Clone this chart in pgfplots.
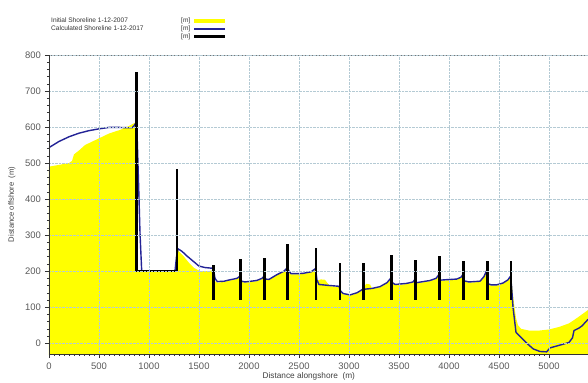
\documentclass[border=0pt]{standalone}
\usepackage{fontspec}
\setmainfont{Liberation Sans}
\usepackage{pgfplots}
\pgfplotsset{compat=1.18}
\definecolor{shoreblue}{RGB}{35,35,150}
\definecolor{gridc}{RGB}{180,202,212}
\definecolor{shoreyellow}{RGB}{255,255,0}
\begin{document}
\begin{tikzpicture}
\begin{axis}[
  scale only axis, width=539bp, height=299bp,
  xmin=0, xmax=5390, ymin=-30, ymax=800,
  axis x line*=bottom, axis y line*=left,
  axis line style={-, black!80, line width=0.8bp},
  xtick={0,500,...,5000}, ytick={0,100,...,800},
  minor x tick num=9, minor y tick num=4,
  tick align=outside, major tick length=4bp, minor tick length=2bp,
  tick style={black!80, line width=0.5bp},
  grid=major, major grid style={gridc, densely dotted, line width=0.7bp},
  axis on top,
  tick label style={font=\fontsize{9.5}{10}\selectfont, text=black!65},
  xticklabel style={yshift=-1bp},
  yticklabel style={xshift=-0.5bp},
  /pgf/number format/assume math mode=true,
  /pgf/number format/1000 sep={},
  xlabel={Distance alongshore\ \ (m)}, ylabel={Distance offshore\ \ (m)},
  label style={text=black!75},
  xlabel style={at={(axis description cs:0.482,-0.076)}, anchor=center, font=\fontsize{8.3}{9}\selectfont},
  ylabel style={at={(axis description cs:-0.069,0.5)}, anchor=center, font=\fontsize{7.7}{8}\selectfont},
  legend style={at={(axis description cs:0,1)}, anchor=south west, xshift=0bp, yshift=13bp,
    draw=none, fill=none, font=\fontsize{6.6}{7}\selectfont, row sep=-2.5bp, inner sep=0pt,
    text=black!80},
  legend cell align=left, legend plot pos=right,
]
\addplot[fill=shoreyellow, draw=none,
  legend image code/.code={\draw[shoreyellow, line width=4bp] (5bp,0bp) -- (36bp,0bp);}]
coordinates {(0,-40) (0,490) (100,495) (200,500) (230,506) (250,524) (300,535) (360,550) (450,562) (510,570) (600,582) (710,592) (800,603) (860,612) (877,612) (877,200) (1280,200) (1280,240) (1287,259) (1300,254) (1350,240) (1400,223) (1450,209) (1510,200) (1600,200) (1640,202) (1643,190) (1660,172) (1683,168) (1750,170) (1810,174) (1880,178) (1915,184) (1925,170) (1960,168) (2020,170) (2077,172) (2130,178) (2150,184) (2165,176) (2200,175) (2290,192) (2350,198) (2385,208) (2400,198) (2420,191) (2480,191) (2543,192) (2620,196) (2665,205) (2680,174) (2720,177) (2760,176) (2790,165) (2810,158) (2900,156) (2915,143) (2940,136) (3010,132) (3080,138) (3140,148) (3170,165) (3210,163) (3230,152) (3310,155) (3380,166) (3422,180) (3435,166) (3460,161) (3577,164) (3640,168) (3662,176) (3675,166) (3720,168) (3810,172) (3870,178) (3898,188) (3910,173) (3960,174) (4077,176) (4120,181) (4140,189) (4150,171) (4200,168) (4310,170) (4350,183) (4380,202) (4392,163) (4420,160) (4477,160) (4540,165) (4590,174) (4617,184) (4630,160) (4650,110) (4670,70) (4690,50) (4720,40) (4800,35) (4900,35) (5000,38) (5100,45) (5200,55) (5280,70) (5390,92) (5390,-40)};
\addlegendentry{\makebox[130bp][l]{Initial Shoreline 1-12-2007}[m]}
\addplot[shoreblue, line width=1.4bp, line join=round,
  legend image code/.code={\draw[shoreblue, line width=1.4bp] (5bp,0bp) -- (36bp,0bp);}]
coordinates {(0,543) (100,560) (200,573) (300,583) (400,590) (500,595) (600,599) (700,599) (800,598) (830,598) (850,603) (870,612) (877,615) (895,450) (910,306) (927,200) (1260,200) (1275,240) (1290,262) (1330,255) (1380,242) (1440,228) (1500,214) (1560,210) (1635,208) (1645,205) (1660,180) (1683,171) (1750,172) (1810,176) (1880,180) (1910,186) (1925,172) (1960,170) (2020,172) (2077,174) (2130,180) (2150,186) (2165,178) (2200,177) (2277,190) (2350,200) (2385,210) (2400,200) (2420,193) (2480,193) (2543,194) (2620,198) (2665,207) (2680,175) (2700,163) (2810,160) (2900,158) (2915,145) (2940,138) (3010,134) (3080,140) (3140,150) (3160,150) (3230,152) (3310,157) (3380,168) (3422,182) (3435,168) (3460,163) (3577,166) (3640,170) (3662,178) (3675,168) (3720,170) (3810,174) (3870,180) (3898,190) (3910,175) (3960,176) (4077,178) (4120,183) (4140,191) (4150,173) (4200,170) (4310,172) (4350,185) (4380,204) (4392,165) (4420,162) (4477,162) (4540,167) (4590,176) (4615,186) (4625,160) (4640,100) (4670,30) (4700,22) (4777,0) (4843,-16) (4910,-23) (4977,-24) (5010,-13) (5100,-6) (5200,2) (5235,15) (5250,35) (5300,42) (5330,48) (5360,57) (5390,66)};
\addlegendentry{\makebox[130bp][l]{Calculated Shoreline 1-12-2017}[m]}
\addplot[black, line width=2.6bp, line join=miter,
  legend image code/.code={\draw[black, line width=2.8bp] (5bp,0bp) -- (36bp,0bp);}]
coordinates {(877,752) (877,200) (1280,200) (1280,484)};
\addlegendentry{\makebox[130bp][l]{}[m]}
\addplot[black, line width=2.6bp, forget plot] coordinates {(1643,120) (1643,217)};
\addplot[black, line width=2.6bp, forget plot] coordinates {(1917,120) (1917,234)};
\addplot[black, line width=2.6bp, forget plot] coordinates {(2153,120) (2153,236)};
\addplot[black, line width=2.6bp, forget plot] coordinates {(2387,120) (2387,275)};
\addplot[black, line width=2.6bp, forget plot] coordinates {(2670,120) (2670,264)};
\addplot[black, line width=2.6bp, forget plot] coordinates {(2910,120) (2910,222)};
\addplot[black, line width=2.6bp, forget plot] coordinates {(3147,120) (3147,222)};
\addplot[black, line width=2.6bp, forget plot] coordinates {(3427,120) (3427,245)};
\addplot[black, line width=2.6bp, forget plot] coordinates {(3667,120) (3667,231)};
\addplot[black, line width=2.6bp, forget plot] coordinates {(3903,120) (3903,242)};
\addplot[black, line width=2.6bp, forget plot] coordinates {(4143,120) (4143,228)};
\addplot[black, line width=2.6bp, forget plot] coordinates {(4383,120) (4383,228)};
\addplot[black, line width=2.6bp, forget plot] coordinates {(4620,120) (4620,228)};
\draw[black!55, line width=1bp] (rel axis cs:0,1) -- (rel axis cs:1,1);
\coordinate (ll) at (rel axis cs:0,0);
\coordinate (ur) at (rel axis cs:1,1);
\end{axis}
\pgfresetboundingbox
\path ([xshift=-49bp,yshift=-29bp]ll) rectangle ([yshift=55bp]ur);
\end{tikzpicture}
\end{document}
